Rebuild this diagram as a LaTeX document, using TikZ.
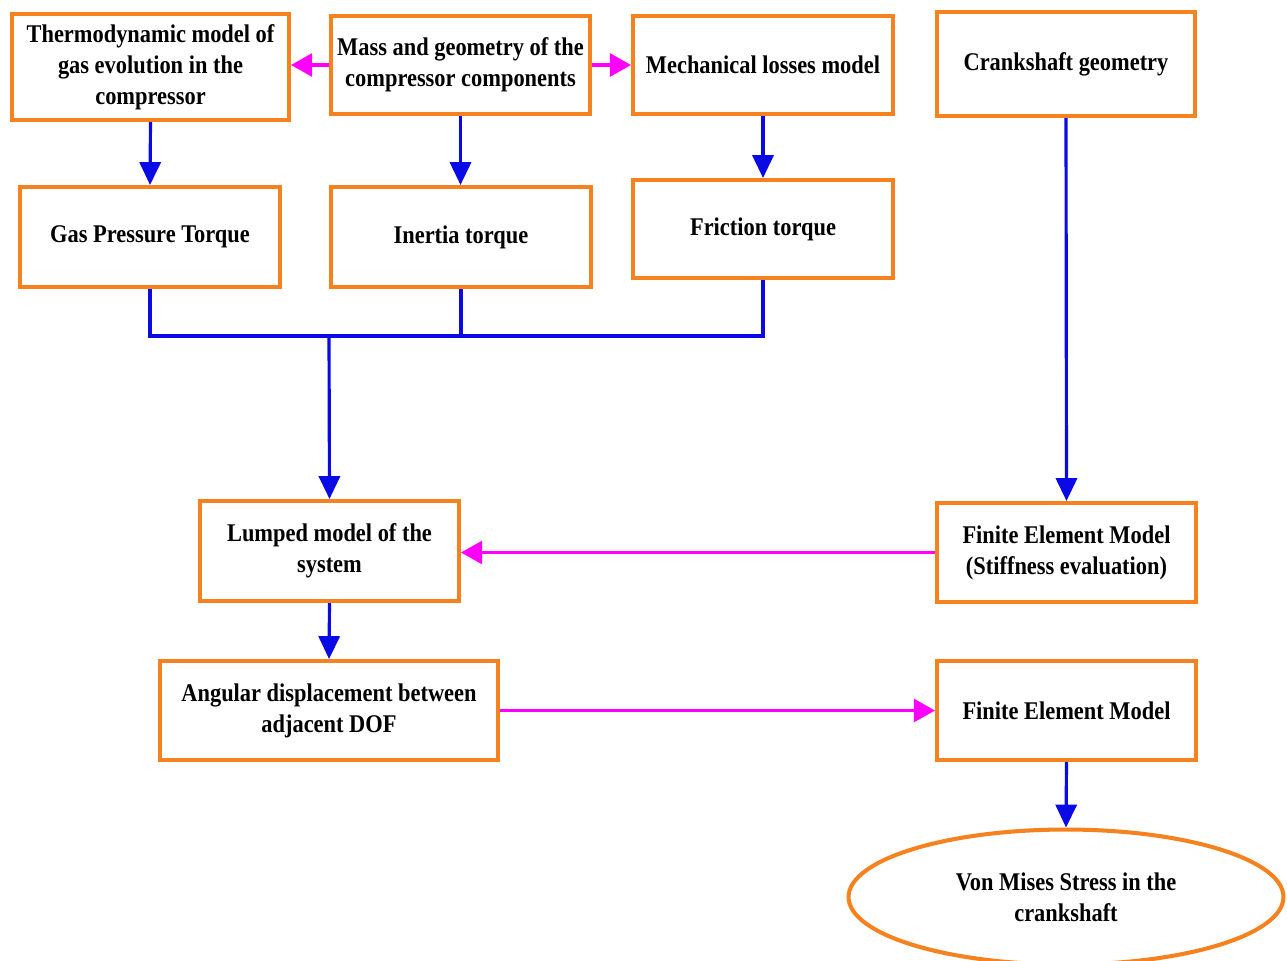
\documentclass[tikz,border=0pt]{standalone}
\usepackage{fontspec}
\setmainfont[FakeStretch=0.88]{Liberation Serif}
\usetikzlibrary{arrows.meta,shapes.geometric}
\definecolor{boxorange}{RGB}{245,130,30}
\definecolor{flowblue}{RGB}{10,10,230}
\definecolor{flowmag}{RGB}{255,0,255}
\begin{document}
\begin{tikzpicture}[x=0.02cm,y=-0.02cm,
  box/.style={draw=boxorange,line width=2.3pt,fill=white,align=center,inner sep=2pt,
    font=\bfseries\fontsize{14.5}{17.6}\selectfont},
  oval/.style={draw=boxorange,line width=2.3pt,ellipse,align=center,inner sep=0pt,
    font=\bfseries\fontsize{14.5}{17.6}\selectfont},
  bl/.style={draw=flowblue,line width=1.8pt},
  blarrow/.style={bl,-{Triangle[width=12pt,length=13pt]}},
  magarrow/.style={draw=flowmag,line width=1.8pt,-{Triangle[width=13pt,length=12pt]}}]
\useasboundingbox (0,0) rectangle (1287,960);
\node[box,minimum width=5.54cm,minimum height=2.12cm] (thermo) at (150.5,67) {Thermodynamic model of\\gas evolution in the\\compressor};
\node[box,minimum width=5.18cm,minimum height=1.96cm] (mass) at (460.5,65) {Mass and geometry of the\\compressor components};
\node[box,minimum width=5.2cm,minimum height=1.96cm] (mech) at (763,65) {Mechanical losses model};
\node[box,minimum width=5.16cm,minimum height=2.08cm] (crank) at (1066,64) {Crankshaft geometry};
\node[box,minimum width=5.2cm,minimum height=2.0cm] (gas) at (150,237) {Gas Pressure Torque};
\node[box,minimum width=5.2cm,minimum height=2.0cm] (inertia) at (461,237) {Inertia torque};
\node[box,minimum width=5.2cm,minimum height=1.96cm] (friction) at (763,229) {Friction torque};
\node[box,minimum width=5.18cm,minimum height=2.0cm] (lumped) at (329.5,551) {Lumped model of the\\system};
\node[box,minimum width=5.18cm,minimum height=1.98cm] (fems) at (1066.5,552.5) {Finite Element Model\\(Stiffness evaluation)};
\node[box,minimum width=6.76cm,minimum height=1.98cm] (angular) at (329,710.5) {Angular displacement between\\adjacent DOF};
\node[box,minimum width=5.18cm,minimum height=1.98cm] (fem) at (1066.5,710.5) {Finite Element Model};
\node[oval,minimum width=8.7cm,minimum height=2.7cm] (vm) at (1066,897) {Von Mises Stress in the\\crankshaft};
\coordinate (j) at (329,336);
\draw[blarrow] (thermo.south) -- (gas.north);
\draw[blarrow] (mass.south) -- (mass.south |- inertia.north);
\draw[blarrow] (mech.south) -- (friction.north);
\draw[blarrow] (crank.south) -- (fems.north);
\draw[bl] (gas.south) |- (j);
\draw[bl] (friction.south) |- (j);
\draw[bl] (inertia.south) -- (inertia.south |- j);
\draw[blarrow] (j) -- (lumped.north);
\draw[blarrow] (lumped.south) -- (angular.north);
\draw[blarrow] (fem.south) -- (vm.north);
\draw[magarrow] (mass.west) -- (mass.west -| thermo.east);
\draw[magarrow] (mass.east) -- (mass.east -| mech.west);
\draw[magarrow] (fems.west) -- (fems.west -| lumped.east);
\draw[magarrow] (angular.east) -- (angular.east -| fem.west);
\end{tikzpicture}
\end{document}
